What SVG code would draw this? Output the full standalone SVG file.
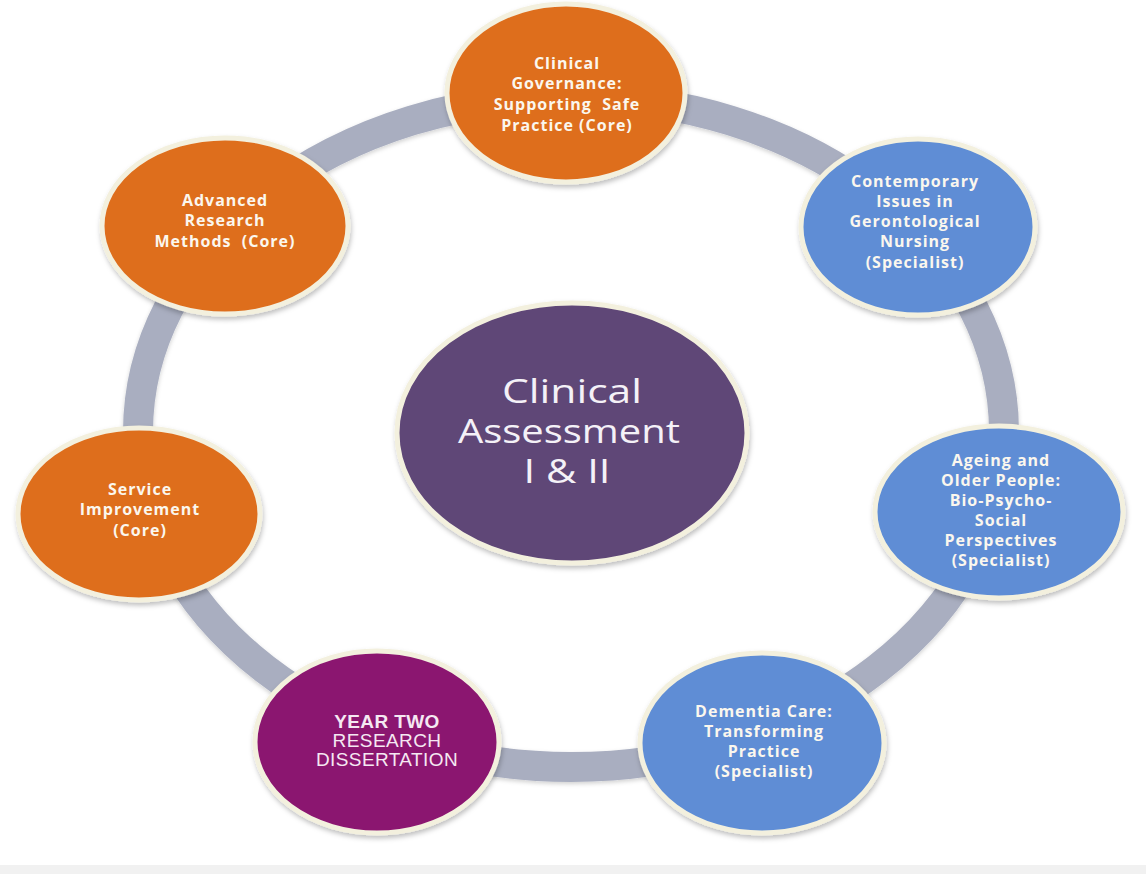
<svg xmlns="http://www.w3.org/2000/svg" width="1146" height="874" viewBox="0 0 1146 874">
<defs>
<filter id="sh" x="-10%" y="-10%" width="125%" height="130%">
<feDropShadow dx="1" dy="3" stdDeviation="2.5" flood-color="#000" flood-opacity="0.25"/>
</filter>
<filter id="rsh" x="-5%" y="-5%" width="110%" height="112%">
<feDropShadow dx="0" dy="2" stdDeviation="2" flood-color="#000" flood-opacity="0.18"/>
</filter>
</defs>
<style>
.node{stroke:#f3f0de;stroke-width:5;filter:url(#sh)}
.core{fill:#de6e1e}
.spec{fill:#5e8dd5}
.lbl{font-family:"Open Sans","Liberation Sans",sans-serif;font-weight:bold;font-size:16px;letter-spacing:1px;fill:#fbf7ee;text-anchor:middle}
.yr{font-family:"Liberation Sans",Arial,sans-serif;font-size:19px;letter-spacing:0.4px;fill:#f5e8f2;text-anchor:middle}
.ctr{font-family:"Open Sans","Liberation Sans",sans-serif;font-size:32px;fill:#f4f1f7;text-anchor:middle}
</style>
<rect x="0" y="0" width="1146" height="874" fill="#ffffff"/>
<rect x="0" y="865" width="1146" height="9" fill="#f1f1f1"/>
<g id="connectors">
<ellipse cx="571" cy="432" rx="433" ry="335" fill="none" stroke="#a9aec0" stroke-width="30" filter="url(#rsh)"/>
</g>
<g id="center">
<ellipse class="node" cx="572" cy="433" rx="175" ry="130" fill="#5e4677"/>
<text class="ctr" x="572" y="403" textLength="140" lengthAdjust="spacingAndGlyphs">Clinical</text>
<text class="ctr" x="569" y="443" textLength="222" lengthAdjust="spacingAndGlyphs">Assessment</text>
<text class="ctr" x="567" y="483" textLength="87" lengthAdjust="spacingAndGlyphs">I &amp; II</text>
</g>
<g id="governance">
<ellipse class="node core" cx="566" cy="93" rx="119" ry="89"/>
<text class="lbl" x="567" y="69">Clinical</text>
<text class="lbl" x="567" y="89">Governance:</text>
<text class="lbl" x="567" y="110" xml:space="preserve">Supporting  Safe</text>
<text class="lbl" x="567" y="131">Practice (Core)</text>
</g>
<g id="contemporary">
<ellipse class="node spec" cx="918" cy="227" rx="117" ry="88"/>
<text class="lbl" x="915" y="187">Contemporary</text>
<text class="lbl" x="915" y="207">Issues in</text>
<text class="lbl" x="915" y="227">Gerontological</text>
<text class="lbl" x="915" y="247">Nursing</text>
<text class="lbl" x="915" y="268">(Specialist)</text>
</g>
<g id="ageing">
<ellipse class="node spec" cx="999" cy="512" rx="124" ry="86"/>
<text class="lbl" x="1001" y="466">Ageing and</text>
<text class="lbl" x="1001" y="486">Older People:</text>
<text class="lbl" x="1001" y="506">Bio-Psycho-</text>
<text class="lbl" x="1001" y="526">Social</text>
<text class="lbl" x="1001" y="546">Perspectives</text>
<text class="lbl" x="1001" y="566">(Specialist)</text>
</g>
<g id="dementia">
<ellipse class="node spec" cx="762" cy="743" rx="122" ry="90"/>
<text class="lbl" x="764" y="717">Dementia Care:</text>
<text class="lbl" x="764" y="737">Transforming</text>
<text class="lbl" x="764" y="757">Practice</text>
<text class="lbl" x="764" y="777">(Specialist)</text>
</g>
<g id="year-two">
<ellipse class="node" cx="377" cy="742" rx="122" ry="91" fill="#8b1570"/>
<text class="yr" x="387" y="728" font-weight="bold">YEAR TWO</text>
<text class="yr" x="387" y="747">RESEARCH</text>
<text class="yr" x="387" y="766">DISSERTATION</text>
</g>
<g id="service">
<ellipse class="node core" cx="139" cy="514" rx="121" ry="86"/>
<text class="lbl" x="140" y="495">Service</text>
<text class="lbl" x="140" y="515">Improvement</text>
<text class="lbl" x="140" y="536">(Core)</text>
</g>
<g id="advanced">
<ellipse class="node core" cx="225" cy="226" rx="123" ry="88"/>
<text class="lbl" x="225" y="206">Advanced</text>
<text class="lbl" x="225" y="226">Research</text>
<text class="lbl" x="225" y="247" xml:space="preserve">Methods  (Core)</text>
</g>
</svg>
